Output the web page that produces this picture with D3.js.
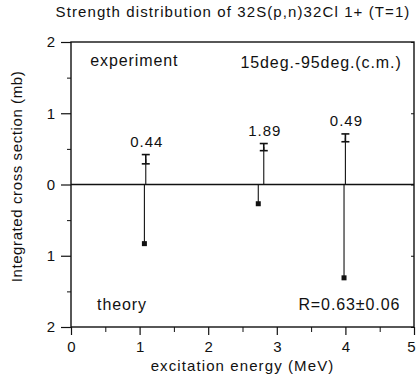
<!DOCTYPE html>
<html>
<head>
<meta charset="utf-8">
<script src="https://cdn.jsdelivr.net/npm/d3@7"></script>
<style>
  body { margin: 0; background: #fff; }
  text { font-family: "Liberation Sans", Arial, sans-serif; fill: #111; }
</style>
</head>
<body>
<svg id="chart"></svg>
<script>
// experiment (upper half) — positions in MeV, values in mb
const expEnergy = [1.09, 2.81, 4.0];
const expValue = [0.355, 0.525, 0.655];
const expError = [0.065, 0.05, 0.055];
const expLabels = ["0.44", "1.89", "0.49"];

// theory (lower half, drawn downward)
const theoEnergy = [1.07, 2.73, 3.98];
const theoValue = [0.83, 0.27, 1.31];

const xTicks = [0, 1, 2, 3, 4, 5];
const yTicks = [2, 1, 0, -1, -2];

const width = 417, height = 382;
const margin = { top: 42, right: 3, bottom: 55, left: 71 };
const w = width - margin.left - margin.right;
const h = height - margin.top - margin.bottom;

const svg = d3.select("#chart")
    .attr("width", width)
    .attr("height", height);

const g = svg.append("g")
    .attr("transform", `translate(${margin.left}, ${margin.top})`);

const x = d3.scaleLinear().domain([0, 5]).range([0, w]);
const y = d3.scaleLinear().domain([-2, 2]).range([h, 0]);

// title
svg.append("text")
    .attr("x", 233).attr("y", 17)
    .attr("text-anchor", "middle")
    .style("font-size", "15px")
    .style("letter-spacing", "1.1px")
    .text("Strength distribution of 32S(p,n)32Cl 1+ (T=1)");

// frame
g.append("rect")
    .attr("width", w).attr("height", h)
    .attr("fill", "none")
    .attr("stroke", "#111")
    .attr("stroke-width", 1.4);

// zero line
g.append("line")
    .attr("x1", 0).attr("x2", w)
    .attr("y1", y(0)).attr("y2", y(0))
    .attr("stroke", "#111").attr("stroke-width", 1.4);

// bottom axis (major + minor ticks going down)
const xAxis = g.append("g")
    .attr("transform", `translate(0, ${h})`)
    .call(d3.axisBottom(x).tickValues(xTicks).tickSize(8).tickPadding(6).tickFormat(d3.format("d")));
xAxis.select(".domain").remove();
xAxis.selectAll("text").style("font-size", "15px").attr("fill", "#111")
    .attr("dx", d => d === 5 ? -3 : 0);
xAxis.selectAll("line").attr("stroke", "#111").attr("stroke-width", 1.2);

g.append("g")
    .attr("transform", `translate(0, ${h})`)
    .call(d3.axisBottom(x).tickValues(d3.range(0.5, 5, 1)).tickSize(5).tickFormat(""))
    .call(a => a.select(".domain").remove())
    .selectAll("line").attr("stroke", "#111");

// left axis, absolute value labels
const yAxis = g.append("g")
    .call(d3.axisLeft(y).tickValues(yTicks).tickSize(10).tickPadding(6).tickFormat(d => Math.abs(d)));
yAxis.select(".domain").remove();
yAxis.selectAll("text").style("font-size", "15px").attr("fill", "#111");
yAxis.selectAll("line").attr("stroke", "#111").attr("stroke-width", 1.2);

g.append("g")
    .call(d3.axisLeft(y).tickValues(d3.range(-1.5, 2, 1)).tickSize(4).tickFormat(""))
    .call(a => a.select(".domain").remove())
    .selectAll("line").attr("stroke", "#111");

// right side ticks (inward)
g.append("g")
    .attr("transform", `translate(${w}, 0)`)
    .call(d3.axisLeft(y).tickValues(yTicks).tickSize(3).tickFormat(""))
    .call(a => a.select(".domain").remove())
    .selectAll("line").attr("stroke", "#111");

// axis titles
svg.append("text")
    .attr("x", margin.left + x(2.5)).attr("y", 371)
    .attr("text-anchor", "middle")
    .style("font-size", "15px")
    .style("letter-spacing", "1.1px")
    .text("excitation energy (MeV)");

svg.append("text")
    .attr("transform", `translate(22, ${margin.top + y(0) - 8}) rotate(-90)`)
    .attr("text-anchor", "middle")
    .style("font-size", "15px")
    .style("letter-spacing", "0.6px")
    .text("Integrated cross section (mb)");

// in-plot annotations
const note = (t, xv, yv, anchor) => g.append("text")
    .attr("x", x(xv)).attr("y", y(yv))
    .attr("text-anchor", anchor)
    .style("font-size", "16px")
    .style("letter-spacing", "0.9px")
    .text(t);
note("experiment", 0.28, 1.66, "start");
note("15deg.-95deg.(c.m.)", 4.82, 1.64, "end");
note("theory", 0.38, -1.76, "start");
note("R=0.63±0.06", 4.8, -1.76, "end");

// experiment stems and error bars
const exp = expEnergy.map((e, i) => ({ e, v: expValue[i], err: expError[i], label: expLabels[i] }));

g.selectAll(".exp-stem")
    .data(exp).enter().append("line")
    .attr("class", "exp-stem")
    .attr("x1", d => x(d.e)).attr("x2", d => x(d.e))
    .attr("y1", y(0)).attr("y2", d => y(d.v))
    .attr("stroke", "#111").attr("stroke-width", 1.1);

g.selectAll(".exp-err")
    .data(exp).enter().append("line")
    .attr("class", "exp-err")
    .attr("x1", d => x(d.e)).attr("x2", d => x(d.e))
    .attr("y1", d => y(d.v - d.err)).attr("y2", d => y(d.v + d.err))
    .attr("stroke", "#111").attr("stroke-width", 1.6);

["-", "+"].forEach(s => {
    g.selectAll(".cap" + (s === "+" ? "p" : "m"))
        .data(exp).enter().append("line")
        .attr("x1", d => x(d.e) - 4).attr("x2", d => x(d.e) + 4)
        .attr("y1", d => y(s === "+" ? d.v + d.err : d.v - d.err))
        .attr("y2", d => y(s === "+" ? d.v + d.err : d.v - d.err))
        .attr("stroke", "#111").attr("stroke-width", 1.6);
});

g.selectAll(".exp-label")
    .data(exp).enter().append("text")
    .attr("x", d => x(d.e) + 1)
    .attr("y", d => y(d.v + d.err) - 8)
    .attr("text-anchor", "middle")
    .style("font-size", "15px")
    .style("letter-spacing", "1px")
    .text(d => d.label);

// theory stems with square markers
const theo = theoEnergy.map((e, i) => ({ e, v: -theoValue[i] }));

g.selectAll(".theo-stem")
    .data(theo).enter().append("line")
    .attr("x1", d => x(d.e)).attr("x2", d => x(d.e))
    .attr("y1", y(0)).attr("y2", d => y(d.v))
    .attr("stroke", "#111").attr("stroke-width", 1.1);

g.selectAll(".theo-mark")
    .data(theo).enter().append("rect")
    .attr("x", d => x(d.e) - 2.5).attr("y", d => y(d.v) - 2.5)
    .attr("width", 5).attr("height", 5)
    .attr("fill", "#111");
</script>
</body>
</html>
